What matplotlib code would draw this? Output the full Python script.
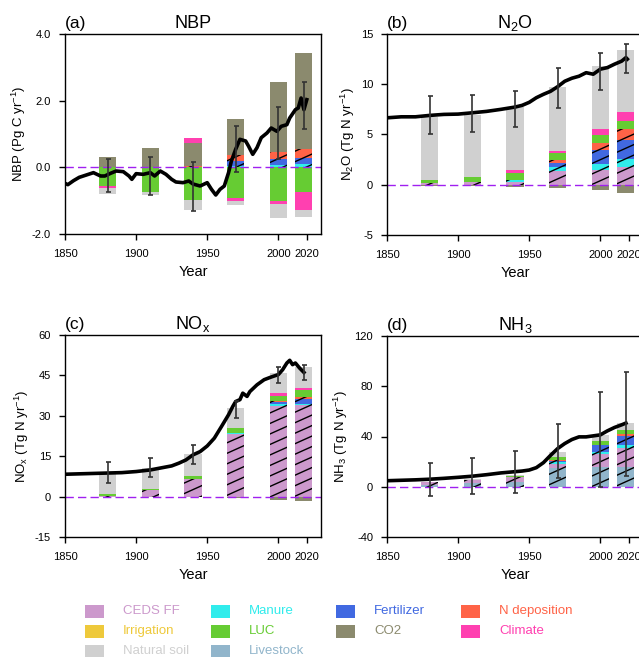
import matplotlib.pyplot as plt
import numpy as np
from matplotlib.patches import Rectangle
from matplotlib.collections import LineCollection

plt.rcParams['font.family'] = ['Liberation Sans', 'DejaVu Sans']
plt.rcParams['mathtext.fontset'] = 'custom'
plt.rcParams['mathtext.rm'] = 'Liberation Sans'
plt.rcParams['mathtext.it'] = 'Liberation Sans:italic'

# years of the attribution bars
bar_years = [1880, 1910, 1940, 1970, 2000, 2018]

# (a) NBP, Pg C/yr
nbp_years = [1850, 1852, 1856, 1860, 1865, 1870, 1875, 1878, 1882, 1886, 1891, 1895, 1897,
             1900, 1905, 1910, 1913, 1917, 1921, 1925, 1928, 1933, 1937, 1940, 1945, 1950,
             1953, 1956, 1959, 1962, 1965, 1967, 1970, 1973, 1977, 1979, 1982, 1985, 1988,
             1992, 1995, 1999, 2002, 2006, 2008, 2012, 2014, 2016, 2018, 2020]
nbp_vals = [-0.48, -0.52, -0.4, -0.3, -0.23, -0.16, -0.26, -0.26, -0.18, -0.11, -0.13, -0.26, -0.36,
            -0.19, -0.21, -0.16, -0.26, -0.11, -0.21, -0.36, -0.44, -0.46, -0.41, -0.5, -0.56, -0.46,
            -0.66, -0.83, -0.66, -0.56, -0.16, 0.19, 0.54, 0.84, 0.79, 0.64, 0.39, 0.59, 0.89,
            1.03, 1.18, 1.08, 1.23, 1.28, 1.48, 1.73, 1.78, 2.08, 1.73, 2.03]
nbp_manure = [0, 0.02, 0.02, 0.04, 0.06, 0.09]
nbp_fert = [0, 0, 0, 0.14, 0.20, 0.19]
nbp_ndep = [0, 0, 0.03, 0.18, 0.20, 0.26]
nbp_co2 = [0.30, 0.55, 0.69, 1.09, 2.09, 2.88]
nbp_climate = [-0.06, 0, 0.13, -0.07, -0.11, -0.54]
nbp_luc = [-0.56, -0.73, -0.99, -0.93, -1.0, -0.75]
nbp_natsoil = [-0.17, -0.10, -0.29, -0.12, -0.41, -0.19]
nbp_err_lo = [-0.75, -0.82, -1.30, -0.14, 0.26, 1.16]
nbp_err_hi = [0.24, 0.32, 0.17, 1.24, 1.80, 2.56]

# (b) N2O, Tg N/yr
n2o_years = [1850, 1860, 1870, 1880, 1890, 1900, 1910, 1920, 1930, 1940, 1945, 1950, 1955,
             1960, 1965, 1970, 1975, 1980, 1985, 1990, 1995, 2000, 2005, 2010, 2015, 2018, 2019]
n2o_vals = [6.66, 6.76, 6.76, 6.9, 7.0, 7.03, 7.16, 7.3, 7.5, 7.73, 7.9, 8.2, 8.66,
            9.0, 9.3, 9.76, 10.3, 10.6, 10.8, 11.15, 11.0, 11.5, 11.66, 12.0, 12.3, 12.65, 12.5]
n2o_ceds = [0.15, 0.25, 0.3, 1.37, 1.5, 1.8]
n2o_manure = [0, 0, 0.2, 0.43, 0.57, 0.77]
n2o_fert = [0, 0, 0, 0.33, 1.43, 1.93]
n2o_ndep = [0, 0, 0, 0.37, 0.67, 1.0]
n2o_luc = [0.30, 0.55, 0.65, 0.67, 0.8, 0.83]
n2o_climate = [0, 0, 0.3, 0.23, 0.6, 0.87]
n2o_natsoil = [6.32, 6.13, 6.28, 6.37, 6.26, 6.2]
n2o_co2 = [-0.1, -0.1, -0.2, -0.3, -0.57, -0.83]
n2o_err_lo = [5.0, 5.27, 5.73, 7.6, 9.47, 11.1]
n2o_err_hi = [8.83, 8.9, 9.33, 11.6, 13.07, 14.0]

# (c) NOx, Tg N/yr
nox_years = [1850, 1870, 1890, 1900, 1910, 1920, 1925, 1930, 1935, 1940, 1945, 1950, 1955,
             1960, 1965, 1968, 1970, 1973, 1975, 1978, 1980, 1985, 1990, 1995, 2000, 2003,
             2006, 2008, 2010, 2012, 2015, 2018]
nox_vals = [8.3, 8.6, 8.9, 9.3, 9.9, 10.9, 11.4, 12.4, 13.6, 15.5, 16.7, 18.8, 21.7,
            26.0, 30.4, 33.5, 35.3, 36.0, 38.4, 37.2, 39.0, 41.5, 43.4, 44.4, 45.3, 47.1,
            49.6, 50.6, 49.0, 49.6, 47.7, 46.1]
nox_ceds = [0.4, 2.3, 6.4, 23.3, 33.6, 33.9]
nox_manure = [0, 0, 0, 0.2, 0.6, 0.6]
nox_fert = [0, 0, 0, 0.2, 0.8, 1.8]
nox_ndep = [0, 0, 0, 0, 0.6, 0.6]
nox_luc = [0.4, 0.7, 1.4, 1.6, 1.9, 2.5]
nox_climate = [0, 0, 0, 0, 1.1, 0.9]
nox_natsoil = [7.5, 7.8, 7.9, 7.6, 7.3, 7.7]
nox_co2 = [-0.1, -0.2, -0.3, -0.6, -1.3, -1.7]
nox_err_lo = [5.0, 7.2, 12.0, 29.1, 42.2, 43.4]
nox_err_hi = [13.0, 14.5, 19.0, 35.6, 48.0, 48.9]

# (d) NH3, Tg N/yr
nh3_years = [1850, 1870, 1880, 1890, 1900, 1910, 1920, 1930, 1940, 1945, 1950, 1955,
             1960, 1965, 1970, 1975, 1980, 1985, 1990, 1995, 2000, 2005, 2010, 2015, 2018]
nh3_vals = [4.8, 5.5, 6.0, 6.7, 7.5, 8.4, 9.6, 11.0, 12.0, 12.5, 13.3, 15.2,
            19.2, 25.0, 30.4, 34.4, 37.6, 39.7, 39.7, 40.5, 41.3, 44.5, 47.2, 49.3, 50.7]
nh3_livestock = [1.5, 2.7, 3.5, 15.0, 15.7, 15.7]
nh3_ceds = [2.0, 2.6, 4.0, 3.5, 10.7, 15.3]
nh3_manure = [0, 0, 0, 1.2, 1.3, 2.0]
nh3_fert = [0, 0, 0, 0.8, 5.3, 7.5]
nh3_ndep = [0, 0, 0, 0.5, 0.5, 1.1]
nh3_luc = [0, 0, 1.0, 2.5, 3.0, 3.4]
nh3_natsoil = [0.5, 0.8, 1.1, 4.0, 4.3, 5.4]
nh3_err_lo = [-7.7, -5.9, -5.1, 6.9, 0.0, 8.8]
nh3_err_hi = [19.2, 22.9, 28.8, 49.6, 75.2, 91.7]

legend_names = ['CEDS FF', 'Irrigation', 'Natural soil', 'Manure', 'LUC', 'Livestock',
                'Fertilizer', 'CO2', 'N deposition', 'Climate']
colors = {'CEDS FF': '#CC99CC', 'Irrigation': '#EEC93B', 'Natural soil': '#D0D0D0',
          'Manure': '#30ECEC', 'LUC': '#66CC33', 'Livestock': '#91B5CB',
          'Fertilizer': '#4169E1', 'CO2': '#8B8A6E', 'N deposition': '#FF6347',
          'Climate': '#FF40B0'}
hatched = ['CEDS FF', 'Livestock', 'Manure', 'Fertilizer', 'N deposition']
stack_order = ['Livestock', 'CEDS FF', 'Manure', 'Fertilizer', 'N deposition', 'LUC',
               'Irrigation', 'CO2', 'Climate', 'Natural soil']

fig = plt.figure(figsize=(6.39, 6.57), dpi=100)
W, H = 639.0, 657.0


def add_hatch(ax, patches):
    # shallow diagonal lines (like the NCL fill pattern), clipped to each bar piece
    bb = ax.get_position()
    w_px, h_px = bb.width * W, bb.height * H
    slope = 0.45 * w_px / h_px
    step = 10.5 / h_px
    offs = np.arange(-slope - step, 1 + step, step)
    segs = [[(0, c), (1, c + slope)] for c in offs]
    for p in patches:
        if p.get_height() == 0:
            continue
        lc = LineCollection(segs, colors='k', linewidths=1.0, transform=ax.transAxes,
                            zorder=2.1)
        ax.add_collection(lc, autolim=False)
        lc.set_clip_path(p)


def draw_panel(ax, comps, lx, ly, lo, hi, ylim, yticks, ylabels, title, tag, ylabel):
    ax.set_xlim(1850, 2030)
    ax.set_ylim(*ylim)
    pos = np.zeros(len(bar_years))
    neg = np.zeros(len(bar_years))
    for name in stack_order:
        if name not in comps:
            continue
        v = np.array(comps[name], dtype=float)
        base = np.where(v >= 0, pos, neg)
        bars = ax.bar(bar_years, v, width=12, bottom=base, color=colors[name],
                      linewidth=0, zorder=2)
        if name in hatched:
            add_hatch(ax, bars.patches)
        pos += np.where(v > 0, v, 0)
        neg += np.where(v < 0, v, 0)
    ax.axhline(0, color='#A020F0', lw=1, ls=(0, (6, 3)), zorder=2.5)
    ax.plot(lx, ly, 'k-', lw=2.6, zorder=3)
    lo = np.array(lo)
    hi = np.array(hi)
    mid = (lo + hi) / 2
    ax.errorbar(bar_years, mid, yerr=[mid - lo, hi - mid], fmt='none', ecolor='#333333',
                elinewidth=1.2, capsize=1.8, capthick=1.2, zorder=4)
    ax.set_xticks([1850, 1900, 1950, 2000, 2020])
    ax.set_yticks(yticks)
    ax.set_yticklabels(ylabels)
    ax.tick_params(direction='out', length=4, width=1, labelsize=8)
    ax.tick_params(axis='x', pad=7)
    ax.tick_params(axis='y', pad=6)
    for s in ax.spines.values():
        s.set_linewidth(1)
    ax.set_title(title, fontsize=13, pad=4)
    ax.set_title(tag, loc='left', fontsize=12.5, pad=4)
    ax.set_xlabel('Year', fontsize=10.5, labelpad=4)
    ax.set_ylabel(ylabel, fontsize=9.5, labelpad=3)


axa = fig.add_axes([65 / W, 1 - 234 / H, 256 / W, 200 / H])
axb = fig.add_axes([387 / W, 1 - 235 / H, 256 / W, 201 / H])
axc = fig.add_axes([65 / W, 1 - 537 / H, 256 / W, 202 / H])
axd = fig.add_axes([387 / W, 1 - 537 / H, 256 / W, 201 / H])

draw_panel(axa, {'Manure': nbp_manure, 'Fertilizer': nbp_fert, 'N deposition': nbp_ndep,
                 'CO2': nbp_co2, 'Climate': nbp_climate, 'LUC': nbp_luc,
                 'Natural soil': nbp_natsoil},
           nbp_years, nbp_vals, nbp_err_lo, nbp_err_hi, (-2, 4), [-2, 0, 2, 4],
           ['-2.0', '0.0', '2.0', '4.0'], 'NBP', '(a)', 'NBP (Pg C yr$^{-1}$)')
draw_panel(axb, {'CEDS FF': n2o_ceds, 'Manure': n2o_manure, 'Fertilizer': n2o_fert,
                 'N deposition': n2o_ndep, 'LUC': n2o_luc, 'Climate': n2o_climate,
                 'Natural soil': n2o_natsoil, 'CO2': n2o_co2},
           n2o_years, n2o_vals, n2o_err_lo, n2o_err_hi, (-5, 15), [-5, 0, 5, 10, 15],
           ['-5', '0', '5', '10', '15'], 'N$_2$O', '(b)', 'N$_2$O (Tg N yr$^{-1}$)')
draw_panel(axc, {'CEDS FF': nox_ceds, 'Manure': nox_manure, 'Fertilizer': nox_fert,
                 'N deposition': nox_ndep, 'LUC': nox_luc, 'Climate': nox_climate,
                 'Natural soil': nox_natsoil, 'CO2': nox_co2},
           nox_years, nox_vals, nox_err_lo, nox_err_hi, (-15, 60), [-15, 0, 15, 30, 45, 60],
           ['-15', '0', '15', '30', '45', '60'], 'NO$_\\mathrm{x}$', '(c)',
           'NO$_\\mathrm{x}$ (Tg N yr$^{-1}$)')
draw_panel(axd, {'Livestock': nh3_livestock, 'CEDS FF': nh3_ceds, 'Manure': nh3_manure,
                 'Fertilizer': nh3_fert, 'N deposition': nh3_ndep, 'LUC': nh3_luc,
                 'Natural soil': nh3_natsoil},
           nh3_years, nh3_vals, nh3_err_lo, nh3_err_hi, (-40, 120), [-40, 0, 40, 80, 120],
           ['-40', '0', '40', '80', '120'], 'NH$_3$', '(d)', 'NH$_3$ (Tg N yr$^{-1}$)')

# legend drawn by hand: 4 columns, filled top to bottom
col_x = [85, 211, 336, 461]
row_y = [611, 631, 651]
counts = [3, 3, 2, 2]
k = 0
for c, n in enumerate(counts):
    for r in range(n):
        name = legend_names[k]
        k += 1
        fig.add_artist(Rectangle((col_x[c] / W, 1 - (row_y[r] + 6.5) / H), 19 / W, 13 / H,
                                 transform=fig.transFigure, facecolor=colors[name],
                                 edgecolor='none'))
        fig.text((col_x[c] + 38) / W, 1 - row_y[r] / H, name, color=colors[name],
                 fontsize=9.5, va='center', ha='left')

fig.savefig('out.png', dpi=100)
